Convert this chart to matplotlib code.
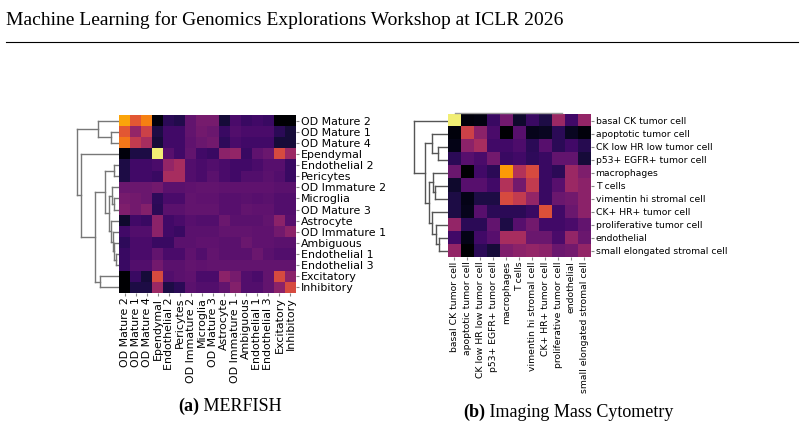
import numpy as np
import matplotlib
matplotlib.use("Agg")
import matplotlib.pyplot as plt
from matplotlib.lines import Line2D

# ---- MERFISH (panel a) ----
merfish_labels = ["OD Mature 2", "OD Mature 1", "OD Mature 4", "Ependymal", "Endothelial 2",
                  "Pericytes", "OD Immature 2", "Microglia", "OD Mature 3", "Astrocyte",
                  "OD Immature 1", "Ambiguous", "Endothelial 1", "Endothelial 3",
                  "Excitatory", "Inhibitory"]
merfish_values = [
    [0.80, 0.62, 0.72, 0.02, 0.15, 0.13, 0.28, 0.33, 0.33, 0.10, 0.22, 0.18, 0.20, 0.18, 0.00, 0.00],
    [0.62, 0.40, 0.55, 0.12, 0.20, 0.20, 0.28, 0.32, 0.30, 0.18, 0.24, 0.22, 0.22, 0.22, 0.15, 0.10],
    [0.70, 0.52, 0.45, 0.10, 0.20, 0.20, 0.27, 0.30, 0.32, 0.16, 0.22, 0.20, 0.20, 0.20, 0.10, 0.10],
    [0.02, 0.12, 0.12, 0.95, 0.25, 0.20, 0.28, 0.20, 0.18, 0.38, 0.40, 0.18, 0.27, 0.30, 0.58, 0.42],
    [0.12, 0.20, 0.20, 0.22, 0.40, 0.45, 0.24, 0.22, 0.24, 0.22, 0.20, 0.20, 0.22, 0.25, 0.25, 0.18],
    [0.12, 0.20, 0.20, 0.18, 0.45, 0.45, 0.24, 0.22, 0.26, 0.22, 0.20, 0.24, 0.24, 0.26, 0.24, 0.18],
    [0.30, 0.30, 0.30, 0.32, 0.26, 0.26, 0.27, 0.28, 0.28, 0.27, 0.27, 0.27, 0.27, 0.27, 0.26, 0.26],
    [0.33, 0.32, 0.30, 0.16, 0.22, 0.22, 0.28, 0.27, 0.27, 0.25, 0.25, 0.26, 0.25, 0.26, 0.24, 0.24],
    [0.35, 0.32, 0.36, 0.15, 0.26, 0.26, 0.28, 0.28, 0.28, 0.25, 0.25, 0.28, 0.27, 0.27, 0.24, 0.24],
    [0.08, 0.20, 0.18, 0.38, 0.20, 0.22, 0.25, 0.24, 0.24, 0.30, 0.26, 0.26, 0.26, 0.28, 0.38, 0.25],
    [0.20, 0.24, 0.24, 0.38, 0.20, 0.18, 0.26, 0.26, 0.26, 0.28, 0.28, 0.28, 0.27, 0.27, 0.32, 0.38],
    [0.16, 0.22, 0.22, 0.18, 0.18, 0.26, 0.26, 0.27, 0.27, 0.26, 0.26, 0.30, 0.27, 0.27, 0.26, 0.26],
    [0.18, 0.22, 0.22, 0.28, 0.22, 0.22, 0.27, 0.24, 0.28, 0.26, 0.26, 0.26, 0.30, 0.26, 0.24, 0.24],
    [0.18, 0.24, 0.24, 0.32, 0.26, 0.26, 0.28, 0.27, 0.28, 0.28, 0.28, 0.28, 0.28, 0.28, 0.28, 0.28],
    [0.00, 0.18, 0.10, 0.58, 0.24, 0.26, 0.27, 0.22, 0.22, 0.38, 0.33, 0.24, 0.22, 0.28, 0.58, 0.38],
    [0.00, 0.12, 0.12, 0.42, 0.12, 0.15, 0.26, 0.24, 0.24, 0.28, 0.36, 0.24, 0.24, 0.28, 0.38, 0.58],
]
# linkage: (child a, child b, merge height); ids >= n are earlier merges
merfish_linkage = [
    (1, 2, 8.3), (0, 16, 21.3), (4, 5, 4.7), (7, 8, 5.0), (6, 19, 7.3),
    (12, 13, 3.3), (11, 21, 5.0), (10, 22, 6.3), (9, 23, 8.3), (20, 24, 10.3),
    (18, 25, 14.0), (14, 15, 19.0), (26, 27, 24.3), (3, 28, 38.3), (17, 29, 42.3),
]

# ---- Imaging Mass Cytometry (panel b) ----
imc_labels = ["basal CK tumor cell", "apoptotic tumor cell", "CK low HR low tumor cell",
              "p53+ EGFR+ tumor cell", "macrophages", "T cells", "vimentin hi stromal cell",
              "CK+ HR+ tumor cell", "proliferative tumor cell", "endothelial",
              "small elongated stromal cell"]
imc_values = [
    [0.95, 0.02, 0.03, 0.18, 0.32, 0.08, 0.18, 0.12, 0.42, 0.20, 0.40],
    [0.02, 0.55, 0.38, 0.22, 0.00, 0.25, 0.05, 0.06, 0.15, 0.06, 0.02],
    [0.04, 0.38, 0.45, 0.20, 0.20, 0.23, 0.15, 0.25, 0.15, 0.20, 0.14],
    [0.15, 0.25, 0.22, 0.32, 0.18, 0.20, 0.16, 0.18, 0.28, 0.28, 0.10],
    [0.30, 0.00, 0.20, 0.15, 0.78, 0.48, 0.58, 0.18, 0.15, 0.42, 0.35],
    [0.08, 0.25, 0.25, 0.20, 0.48, 0.32, 0.52, 0.18, 0.25, 0.42, 0.38],
    [0.12, 0.04, 0.12, 0.12, 0.58, 0.52, 0.40, 0.18, 0.30, 0.32, 0.38],
    [0.12, 0.05, 0.25, 0.15, 0.15, 0.15, 0.18, 0.60, 0.20, 0.30, 0.38],
    [0.40, 0.15, 0.15, 0.28, 0.12, 0.25, 0.32, 0.20, 0.20, 0.22, 0.28],
    [0.20, 0.04, 0.20, 0.25, 0.45, 0.45, 0.30, 0.30, 0.22, 0.40, 0.30],
    [0.40, 0.00, 0.15, 0.10, 0.35, 0.38, 0.40, 0.38, 0.30, 0.32, 0.40],
]
imc_linkage = [
    (2, 3, 10.3), (1, 11, 16.0), (5, 6, 13.3), (4, 13, 15.3), (9, 10, 9.3),
    (8, 15, 12.0), (7, 16, 16.0), (14, 17, 19.3), (12, 18, 23.3), (0, 19, 34.3),
]

W, H = 804, 430


def px_axes(fig, x0, y0, x1, y1):
    # pixel box (top-left origin) -> figure axes
    return fig.add_axes([x0 / W, 1 - y1 / H, (x1 - x0) / W, (y1 - y0) / H])


def draw_dendrogram(ax, linkage, n, color, xmax):
    ypos = {i: i + 0.5 for i in range(n)}
    hgt = {i: 0.0 for i in range(n)}
    for k, (a, b, h) in enumerate(linkage):
        for c in (a, b):
            ax.plot([hgt[c], h], [ypos[c], ypos[c]], color=color, lw=1.0)
        ax.plot([h, h], [ypos[a], ypos[b]], color=color, lw=1.0)
        ypos[n + k] = (ypos[a] + ypos[b]) / 2
        hgt[n + k] = h
    ax.set_xlim(xmax, 0)
    ax.set_ylim(n, 0)
    ax.axis("off")


def draw_heatmap(ax, values, labels, fontsize):
    data = np.array(values)
    n = len(labels)
    ax.imshow(data, cmap="inferno", vmin=0, vmax=1, aspect="auto",
              extent=(0, n, n, 0), interpolation="nearest")
    ax.set_xticks(np.arange(n) + 0.5)
    ax.set_yticks(np.arange(n) + 0.5)
    ax.set_xticklabels(labels, rotation=90, fontsize=fontsize)
    ax.set_yticklabels(labels, fontsize=fontsize)
    ax.yaxis.tick_right()
    ax.tick_params(length=2.5, width=0.8, color="#888888", pad=0.8)
    for s in ax.spines.values():
        s.set_visible(False)


fig = plt.figure(figsize=(W / 100, H / 100), dpi=100)

# page header
fig.text(6 / W, 1 - 20 / H, "Machine Learning for Genomics Explorations Workshop at ICLR 2026",
         family="Liberation Serif", fontsize=14, va="center", ha="left")
fig.add_artist(Line2D([6 / W, 798 / W], [1 - 42 / H, 1 - 42 / H], color="black", lw=0.8))

# panel a
ax_d1 = px_axes(fig, 75, 115, 119, 293)
draw_dendrogram(ax_d1, merfish_linkage, len(merfish_labels), "#777777", 44)
ax_h1 = px_axes(fig, 119, 115, 296, 293)
draw_heatmap(ax_h1, merfish_values, merfish_labels, 7.9)

# panel b
ax_d2 = px_axes(fig, 412, 114, 448, 257)
draw_dendrogram(ax_d2, imc_linkage, len(imc_labels), "#555555", 36)
ax_h2 = px_axes(fig, 448, 114, 591, 257)
draw_heatmap(ax_h2, imc_values, imc_labels, 6.7)
ax_h2.plot([0.05, 0.8], [1.008, 1.008], transform=ax_h2.transAxes,
           color="#999999", lw=1.0, clip_on=False)

# captions
for x0, y0, tag, rest in [(178, 406, "(a)", " MERFISH"),
                          (463, 412, "(b)", " Imaging Mass Cytometry")]:
    t = fig.text(x0 / W, 1 - y0 / H, tag, family="Liberation Serif",
                 fontweight="bold", fontsize=13, va="center", ha="left")
    ax_h1.annotate(rest, xy=(1, 0), xycoords=t, va="bottom", ha="left",
                   family="Liberation Serif", fontsize=13, annotation_clip=False)

fig.savefig("out.png", dpi=100)
